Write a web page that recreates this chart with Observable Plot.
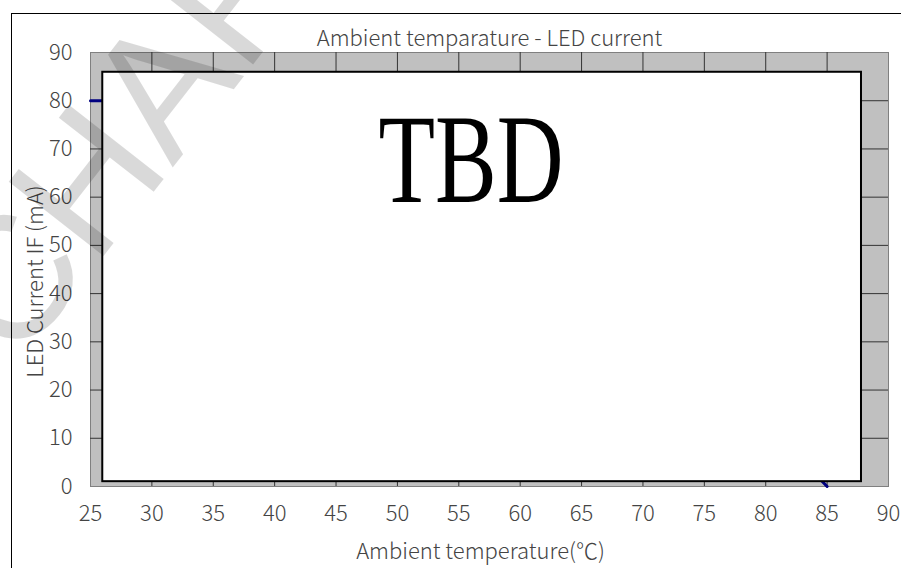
<!DOCTYPE html>
<html>
<head>
<meta charset="utf-8">
<script src="https://cdn.jsdelivr.net/npm/d3@7"></script>
<script src="https://cdn.jsdelivr.net/npm/@observablehq/plot@0.6"></script>
<style>
  html, body { margin: 0; padding: 0; background: #fff; }
  #wrap { position: relative; width: 901px; height: 568px; overflow: hidden; }
  #border { position: absolute; left: 11px; top: 13px; width: 1000px; height: 1000px; border-left: 1px solid #000; border-top: 1px solid #000; }
  #chart { position: absolute; left: 0; top: 0; }
</style>
</head>
<body>
<div id="wrap"><div id="border"></div><div id="chart"></div></div>
<script>
// ---- data ----
const xTicks = [25, 30, 35, 40, 45, 50, 55, 60, 65, 70, 75, 80, 85, 90];
const yTicks = [0, 10, 20, 30, 40, 50, 60, 70, 80, 90];
const tempC = [25, 55, 85];
const currentMA = [80, 80, 0];
const placeholderBoxX = [26, 87.8];
const placeholderBoxY = [1, 85.9];
const placeholderText = "TBD";
const placeholderPos = [56, 59];
const watermarkText = "CHART";
const watermarkPos = [19.0, 24.8];
const titleText = "Ambient temparature - LED current";
const xLabel = "Ambient temperature(\u2103)";
const yLabel = "LED Current IF (mA)";

const series = tempC.map((t, i) => ({t, i: currentMA[i]}));
const box = [{x1: placeholderBoxX[0], x2: placeholderBoxX[1], y1: placeholderBoxY[0], y2: placeholderBoxY[1]}];

const font = "'Noto Sans CJK JP', 'Noto Sans', sans-serif";
const fs = 22;
const ink = "#444";

const plot = Plot.plot({
  width: 901,
  height: 568,
  marginLeft: 90,
  marginRight: 13,
  marginTop: 52,
  marginBottom: 82,
  style: {background: "transparent", fontFamily: font, fontSize: fs + "px", fontWeight: 300, color: ink},
  x: {domain: [25, 90]},
  y: {domain: [0, 90]},
  marks: [
    Plot.frame({fill: "#c0c0c0", stroke: "#808080"}),
    Plot.ruleX(xTicks.slice(1, -1), {stroke: "#333", strokeWidth: 1}),
    Plot.ruleY(yTicks.slice(1, -1), {stroke: "#333", strokeWidth: 1}),
    Plot.line(series, {x: "t", y: "i", stroke: "#000080", strokeWidth: 3}),
    Plot.rect(box, {x1: "x1", x2: "x2", y1: "y1", y2: "y2", fill: "white", stroke: "black", strokeWidth: 2}),
    Plot.text([placeholderText], {x: () => placeholderPos[0], y: () => placeholderPos[1], text: d => d, fontFamily: "'Liberation Serif', serif", fontWeight: 400, fontSize: 126, lineAnchor: "bottom", fill: "#000"}),
    Plot.axisX({ticks: xTicks, tickSize: 0, tickPadding: 19, label: null, fontSize: fs, fill: ink}),
    Plot.axisY({ticks: yTicks, tickSize: 0, tickPadding: 18, label: null, fontSize: fs, fill: ink}),
    Plot.text([titleText], {frameAnchor: "top", lineAnchor: "middle", text: d => d, dy: -14, fontSize: fs, fill: ink}),
    Plot.text([xLabel], {frameAnchor: "bottom", lineAnchor: "middle", text: d => d, dy: 65, dx: -9, fontSize: fs, fill: ink}),
    Plot.text([yLabel], {frameAnchor: "left", textAnchor: "middle", lineAnchor: "middle", text: d => d, dx: -55, dy: 12, rotate: -90, fontSize: fs, fill: ink}),
    Plot.text([watermarkText], {x: () => watermarkPos[0], y: () => watermarkPos[1], text: d => d, rotate: -52, textAnchor: "start", lineAnchor: "bottom", fontFamily: "'Liberation Sans', Arial, sans-serif", fontWeight: 400, fontSize: 175, fill: "#000", fillOpacity: 0.15})
  ]
});
document.getElementById("chart").appendChild(plot);
d3.select(plot).selectAll("text").filter(function() { return this.textContent === placeholderText; })
  .attr("textLength", 185).attr("lengthAdjust", "spacingAndGlyphs");
</script>
</body>
</html>
